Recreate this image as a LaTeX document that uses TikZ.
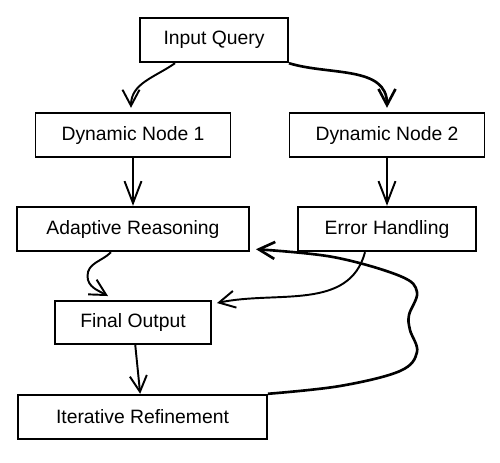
\documentclass[tikz,border=0pt]{standalone}
\usepackage{fontspec}
\setmainfont{Liberation Sans}
\usepackage{tikz}
\usetikzlibrary{arrows.meta,positioning}

\begin{document}
\begin{tikzpicture}[node distance=1.88cm,
    every node/.style={font=\fontsize{11}{13}\selectfont},
    box/.style={draw, rectangle, line width=1.1pt, minimum height=0.89cm, inner sep=2pt},
    arr/.style={line width=1.1pt, -{Straight Barb[length=3.2mm,width=3.4mm]}},
    bigarr/.style={line width=1.1pt, -{Straight Barb[length=4.4mm,width=3.4mm]}}]
    \useasboundingbox (0,0) rectangle (10,-9.24);

    % Top of the flow
    \node[box, minimum width=2.96cm] (query) at (4.28,-0.80) {Input Query};
    \node[box, minimum width=3.9cm, below of=query, xshift=-1.62cm, yshift=-0.02cm] (dyn1) {Dynamic Node 1};
    \node[box, minimum width=3.9cm, right of=dyn1, xshift=3.2cm] (dyn2) {Dynamic Node 2};

    % Second row
    \node[box, minimum width=4.64cm, below of=dyn1] (adapt) {Adaptive Reasoning};
    \node[box, minimum width=3.56cm, below of=dyn2] (error) {Error Handling};

    % Bottom of the flow
    \node[box, minimum width=3.12cm, minimum height=0.86cm, below of=adapt, yshift=0.01cm] (final) {Final Output};
    \node[box, minimum width=4.98cm, below of=final, xshift=0.19cm, yshift=-0.01cm] (refine) {Iterative Refinement};

    % Arrows from the query
    \draw[arr] ([xshift=-0.78cm]query.south) to[out=215, in=90] ([xshift=-0.04cm, yshift=0.08cm]dyn1.north);
    \draw[arr, line width=1.5pt] (query.south east) to[out=-17, in=90] ([yshift=0.08cm]dyn2.north);

    % Straight arrows down
    \draw[bigarr] (dyn1) -- (adapt);
    \draw[bigarr] (dyn2) -- (error);
    \draw[arr] (final) -- (refine);

    % Merging into the output
    \draw[arr] ([xshift=-0.44cm]adapt.south) to[out=225, in=90] (1.75,-5.52)
        to[out=-90, in=150] ([xshift=-0.5cm, yshift=0.08cm]final.north);
    \draw[arr] ([xshift=-0.44cm]error.south) to[out=-105, in=12] ([xshift=0.1cm, yshift=-0.06cm]final.north east);

    % Feedback loop
    \draw[arr, line width=1.5pt] plot[smooth, tension=0.6] coordinates {(refine.north east) (6.8,-7.72) (8.0,-7.42)
        (8.34,-7.04) (8.2,-6.6) (8.18,-6.3) (8.34,-5.84) (8.0,-5.52) (6.66,-5.14) ([xshift=0.12cm, yshift=0.06cm]adapt.south east)};
\end{tikzpicture}
\end{document}
